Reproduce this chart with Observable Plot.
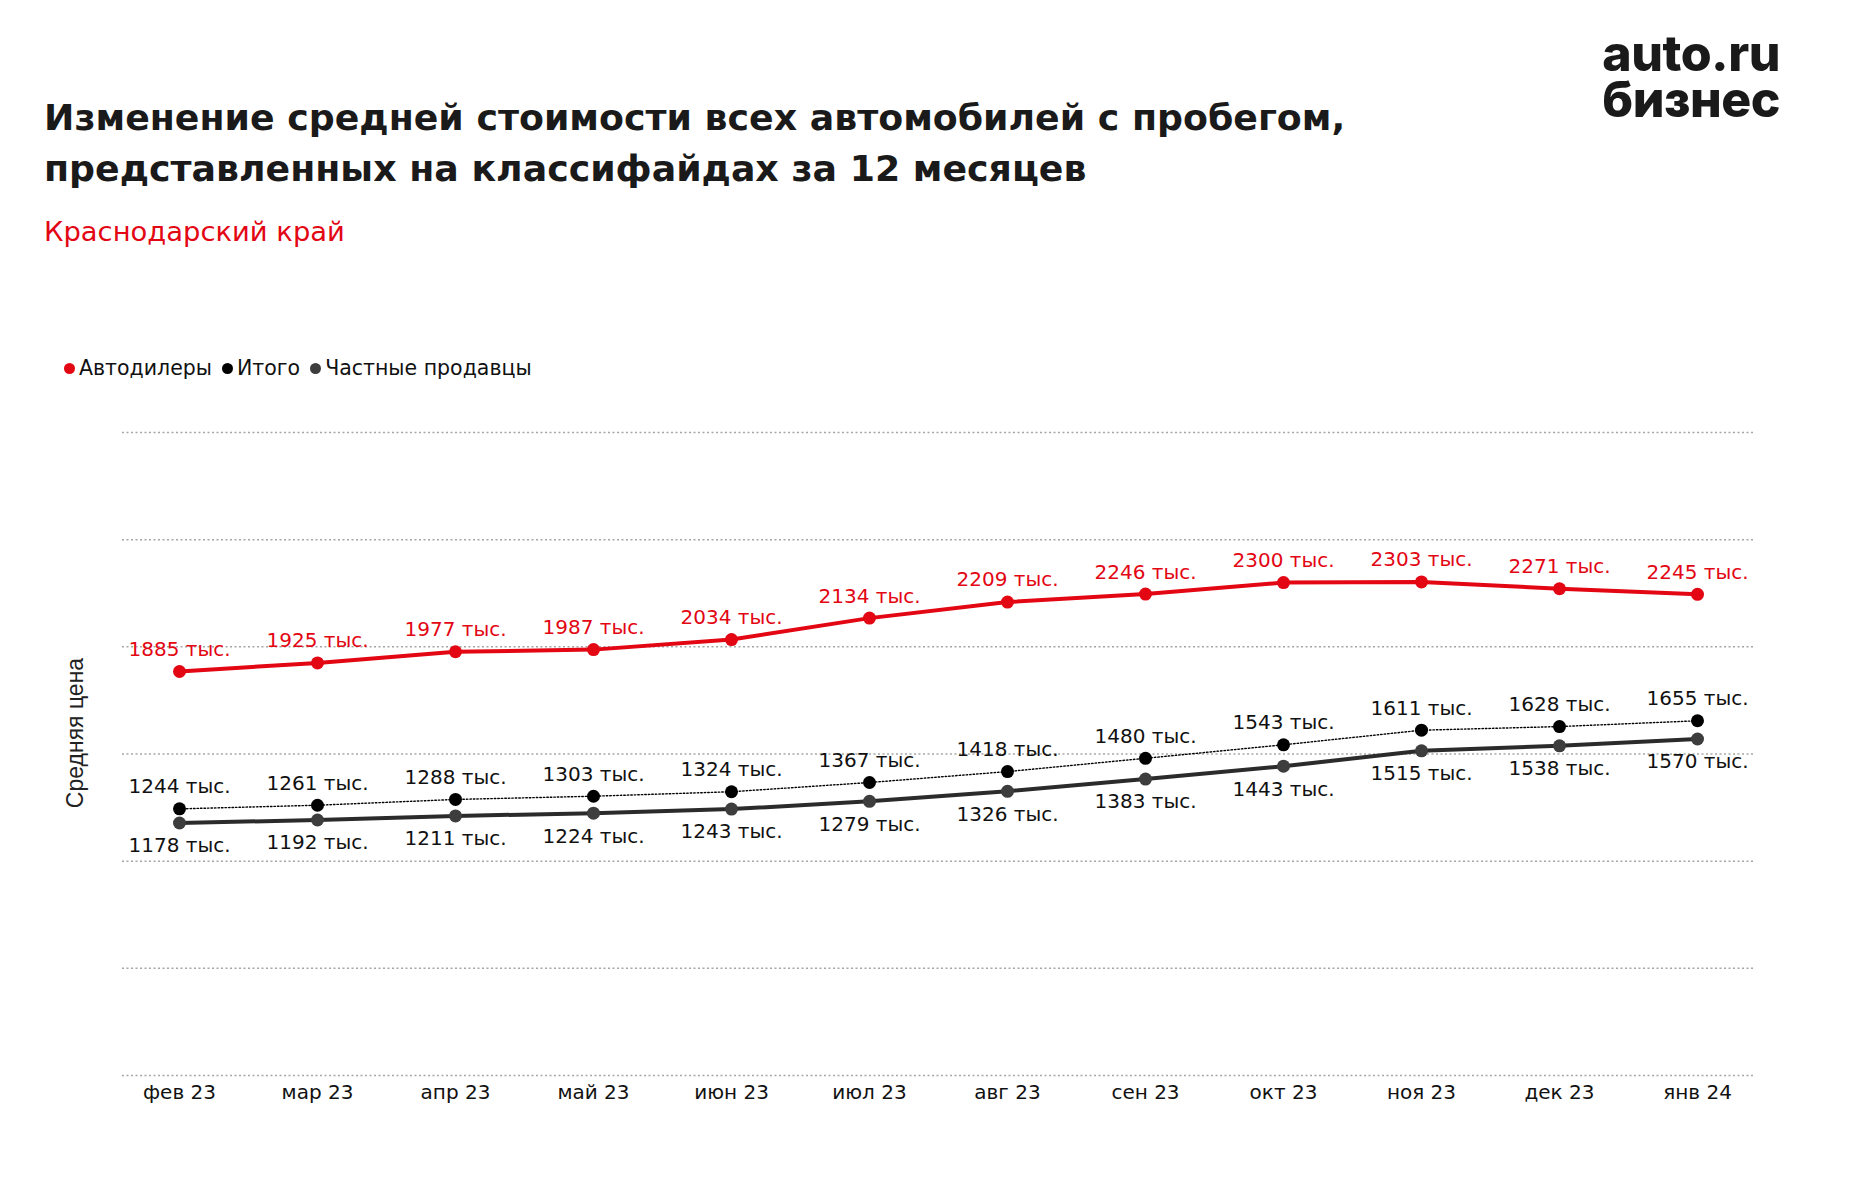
<!DOCTYPE html>
<html>
<head>
<meta charset="utf-8">
<script src="https://cdn.jsdelivr.net/npm/d3@7"></script>
<script src="https://cdn.jsdelivr.net/npm/@observablehq/plot@0.6"></script>
<style>
  html, body { margin: 0; padding: 0; background: #fff; }
  body { width: 1854px; height: 1184px; position: relative; overflow: hidden; font-family: "DejaVu Sans", sans-serif; }
  #title { position: absolute; left: 44px; top: 92px; font-size: 36.3px; font-weight: bold; line-height: 51px; color: #1a1a1a; }
  #subtitle { position: absolute; left: 44px; top: 215px; font-size: 27.4px; line-height: 34px; color: #e30613; }
  .logo { position: absolute; right: 74px; font-family: Inter, sans-serif; font-weight: 800; font-size: 50px; line-height: 44px; color: #1a1a1a; letter-spacing: -0.5px; white-space: nowrap; }
  #logo1 { top: 31px; }
  #logo2 { top: 77px; }
  #legend { position: absolute; left: 64px; top: 355px; font-size: 20.5px; line-height: 26px; color: #111; display: flex; align-items: center; }
  #legend .item { display: flex; align-items: center; margin-right: 10px; }
  #legend .dot { width: 11px; height: 11px; border-radius: 50%; margin-right: 4px; display: inline-block; }
  #ylabel { position: absolute; z-index: 5; left: 75px; top: 733px; transform: translate(-50%, -50%) rotate(-90deg); font-family: "Liberation Sans", Arial, sans-serif; font-size: 23px; color: #222; white-space: nowrap; }
  #chart { position: absolute; left: 0; top: 400px; z-index: 1; }
</style>
</head>
<body>
<div class="logo" id="logo1">auto.ru</div>
<div class="logo" id="logo2">бизнес</div>
<div id="title">Изменение средней стоимости всех автомобилей с пробегом,<br>представленных на классифайдах за 12 месяцев</div>
<div id="subtitle">Краснодарский край</div>
<div id="legend"></div>
<div id="chart"></div>
<div id="ylabel">Средняя цена</div>
<script>
const months = ["фев 23","мар 23","апр 23","май 23","июн 23","июл 23","авг 23","сен 23","окт 23","ноя 23","дек 23","янв 24"];
const dealers = [1885,1925,1977,1987,2034,2134,2209,2246,2300,2303,2271,2245];
const total = [1244,1261,1288,1303,1324,1367,1418,1480,1543,1611,1628,1655];
const privateSellers = [1178,1192,1211,1224,1243,1279,1326,1383,1443,1515,1538,1570];
const seriesNames = ["Автодилеры","Итого","Частные продавцы"];
const seriesColors = ["#e30613","#000000","#3d3d3d"];
const gridValues = [0,500,1000,1500,2000,2500,3000];
const unit = " тыс.";

const rows = (vals, name) => vals.map((v, i) => ({month: months[i], value: v, series: name}));
const dRows = rows(dealers, seriesNames[0]);
const tRows = rows(total, seriesNames[1]);
const pRows = rows(privateSellers, seriesNames[2]);

// legend
const legend = document.getElementById("legend");
seriesNames.forEach((n, i) => {
  const it = document.createElement("span");
  it.className = "item";
  it.innerHTML = `<span class="dot" style="background:${seriesColors[i]}"></span>${n}`;
  legend.appendChild(it);
});

const chart = Plot.plot({
  width: 1854,
  height: 735,
  marginTop: 32,
  marginBottom: 60,
  marginLeft: 122,
  marginRight: 101,
  style: {fontFamily: "DejaVu Sans, sans-serif", fontSize: "20px", background: "transparent"},
  x: {type: "point", domain: months, padding: 0.39, label: null},
  y: {domain: [0, 3000], axis: null},
  marks: [
    Plot.ruleY(gridValues, {stroke: "#a6a6a6", strokeWidth: 1.5, strokeDasharray: "2,2.5"}),
    Plot.axisX({tickSize: 0, tickPadding: 9, fontSize: 20, fill: "#111", label: null}),
    Plot.line(dRows, {x: "month", y: "value", stroke: seriesColors[0], strokeWidth: 4}),
    Plot.line(tRows, {x: "month", y: "value", stroke: "#000", strokeWidth: 1.4, strokeDasharray: "1.5,2"}),
    Plot.line(pRows, {x: "month", y: "value", stroke: "#2b2b2b", strokeWidth: 4}),
    Plot.dot(dRows, {x: "month", y: "value", fill: seriesColors[0], r: 6.5}),
    Plot.dot(tRows, {x: "month", y: "value", fill: seriesColors[1], r: 6.5}),
    Plot.dot(pRows, {x: "month", y: "value", fill: seriesColors[2], r: 6.5}),
    Plot.text(dRows, {x: "month", y: "value", text: d => d.value + unit, dy: -22, fill: seriesColors[0], fontSize: 20}),
    Plot.text(tRows, {x: "month", y: "value", text: d => d.value + unit, dy: -22, fill: "#111", fontSize: 20}),
    Plot.text(pRows, {x: "month", y: "value", text: d => d.value + unit, dy: 23, fill: "#111", fontSize: 20})
  ]
});
document.getElementById("chart").appendChild(chart);
</script>
</body>
</html>
